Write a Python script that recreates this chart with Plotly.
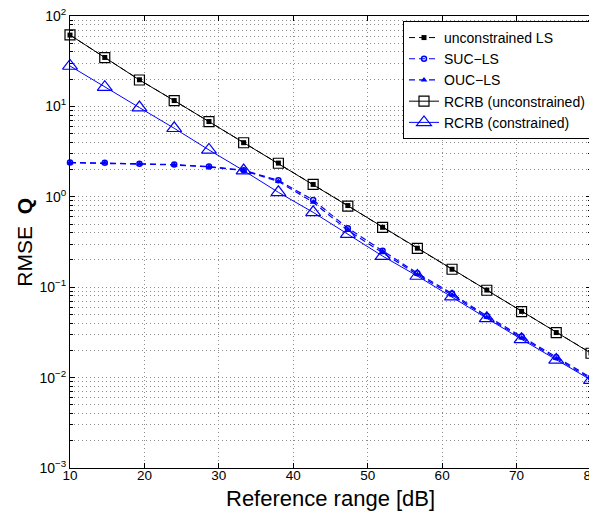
import plotly.graph_objects as go

x_db = [10, 14.67, 19.33, 24, 28.67, 33.33, 38, 42.67, 47.33, 52, 56.67, 61.33, 66, 70.67, 75.33, 80]

ls_unc = [61.5, 34.8, 19.7, 11.6, 6.8, 3.97, 2.36, 1.37, 0.80, 0.46, 0.27, 0.158, 0.093, 0.054, 0.0315, 0.0187]
suc_ls = [2.40, 2.38, 2.32, 2.27, 2.16, 1.97, 1.52, 0.92, 0.45, 0.253, 0.143, 0.085, 0.048, 0.0285, 0.0168, 0.0100]
ouc_ls = [2.38, 2.36, 2.30, 2.25, 2.14, 1.95, 1.48, 0.87, 0.425, 0.240, 0.138, 0.082, 0.0465, 0.0275, 0.0163, 0.0097]
rcrb_unc = [61.7, 34.6, 19.6, 11.6, 6.77, 3.96, 2.35, 1.37, 0.79, 0.46, 0.269, 0.158, 0.0925, 0.0536, 0.0314, 0.0186]
rcrb_con = [28.0, 16.3, 9.7, 5.73, 3.3, 1.95, 1.12, 0.673, 0.387, 0.221, 0.133, 0.0785, 0.0453, 0.0265, 0.0157, 0.0094]

names = ["unconstrained LS", "SUC\u2212LS", "OUC\u2212LS", "RCRB (unconstrained)", "RCRB (constrained)"]

x_ticks = [10, 20, 30, 40, 50, 60, 70, 80]
y_ticks = [1e-3, 1e-2, 1e-1, 1e0, 1e1, 1e2]
y_ticktext = ["10<sup>\u22123</sup>", "10<sup>\u22122</sup>", "10<sup>\u22121</sup>",
              "10<sup>0</sup>", "10<sup>1</sup>", "10<sup>2</sup>"]
y_minor = [m * 10 ** e for e in range(-3, 2) for m in range(2, 10)]

x_title = "Reference range [dB]"
y_title = "RMSE\u00a0\u00a0<b>Q</b>"

BLUE = "#0000ff"
BLACK = "#000000"
FONT = "Liberation Sans, Arial, Helvetica, sans-serif"
GRIDC = "#8c8c8c"
GRIDDASH = "1px,3px"

fig = go.Figure()
fig.add_trace(go.Scatter(x=x_db, y=ls_unc, name=names[0], mode="lines+markers",
                         line=dict(color=BLACK, width=1, dash="6px,4px"),
                         marker=dict(symbol="square", size=5, color=BLACK), cliponaxis=False))
fig.add_trace(go.Scatter(x=x_db, y=suc_ls, name=names[1], mode="lines+markers",
                         line=dict(color=BLUE, width=1.2, dash="6px,4px"),
                         marker=dict(symbol="circle-open", size=5, color=BLUE, line=dict(width=1.5)),
                         cliponaxis=False))
fig.add_trace(go.Scatter(x=x_db, y=ouc_ls, name=names[2], mode="lines+markers",
                         line=dict(color=BLUE, width=1.2, dash="6px,4px"),
                         marker=dict(symbol="triangle-up", size=6, color=BLUE), cliponaxis=False))
fig.add_trace(go.Scatter(x=x_db, y=rcrb_unc, name=names[3], mode="lines+markers",
                         line=dict(color=BLACK, width=1),
                         marker=dict(symbol="square-open", size=10, color=BLACK, line=dict(width=1.2)),
                         cliponaxis=False))
fig.add_trace(go.Scatter(x=x_db, y=rcrb_con, name=names[4], mode="lines+markers",
                         line=dict(color=BLUE, width=1),
                         marker=dict(symbol="triangle-up-open", size=13, color=BLUE, line=dict(width=1.2)),
                         cliponaxis=False))

# the page body adds an 8px offset on the left and top; the figure size compensates for it
fig.update_layout(
    width=589, height=508,
    margin=dict(l=62, r=6, t=8, b=48),
    paper_bgcolor="white", plot_bgcolor="white",
    font=dict(family=FONT, color=BLACK, size=14),
    showlegend=True,
    legend=dict(x=1, y=0.989, xanchor="right", yanchor="top",
                bgcolor="white", bordercolor=BLACK, borderwidth=1,
                font=dict(size=14, family=FONT), tracegroupgap=0,
                itemwidth=30),
    xaxis=dict(range=[10, 80], tickmode="array", tickvals=x_ticks,
               ticks="inside", ticklen=5, tickcolor=BLACK,
               showline=True, linecolor=BLACK, linewidth=1, mirror="ticks",
               zeroline=False, tickfont=dict(size=13.5), automargin=False,
               ticklabeloverflow="allow", ticklabelstandoff=-5,
               showgrid=True, gridcolor=GRIDC, gridwidth=1, griddash=GRIDDASH),
    yaxis=dict(type="log", range=[-3, 2], tickmode="array", tickvals=y_ticks, ticktext=y_ticktext,
               ticks="inside", ticklen=5, tickcolor=BLACK,
               showline=True, linecolor=BLACK, linewidth=1, mirror="ticks",
               zeroline=False, tickfont=dict(size=14), automargin=False,
               ticklabeloverflow="allow",
               minor=dict(tickmode="array", tickvals=y_minor, ticks="inside", ticklen=3,
                          tickcolor=BLACK, showgrid=True, gridcolor=GRIDC, griddash=GRIDDASH, gridwidth=1),
               showgrid=True, gridcolor=GRIDC, gridwidth=1, griddash=GRIDDASH),
    annotations=[
        dict(text=x_title, xref="paper", yref="paper", x=0.5, y=-0.068,
             xanchor="center", yanchor="middle", showarrow=False, font=dict(size=22)),
        dict(text=y_title, xref="paper", yref="paper", x=-0.089, y=0.5, textangle=-90,
             xanchor="center", yanchor="middle", showarrow=False, font=dict(size=21)),
    ],
)

fig.write_html("out.html")
